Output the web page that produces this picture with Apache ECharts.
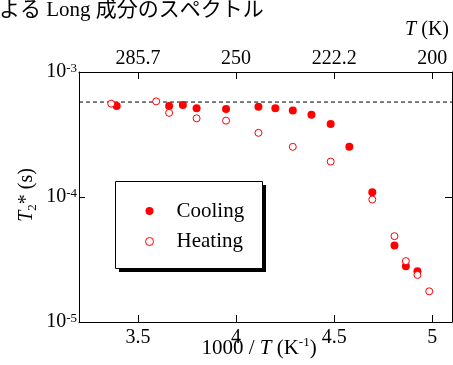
<!DOCTYPE html>
<html><head><meta charset="utf-8">
<script src="https://cdn.jsdelivr.net/npm/echarts@6/dist/echarts.min.js"></script>
<style>html,body{margin:0;padding:0;background:#fff}#c{width:453px;height:365px}</style>
</head><body><div id="c"></div>
<script>
// 1000/T (K^-1) and T2* (s)
const coolingX = [3.392, 3.659, 3.729, 3.799, 3.949, 4.114, 4.200, 4.289, 4.384, 4.482, 4.577, 4.694, 4.807, 4.865, 4.924];
const coolingY = [5.35e-4, 5.35e-4, 5.45e-4, 5.12e-4, 5.06e-4, 5.28e-4, 5.12e-4, 4.91e-4, 4.56e-4, 3.84e-4, 2.52e-4, 1.09e-4, 4.10e-5, 2.79e-5, 2.55e-5];
const heatingX = [3.364, 3.593, 3.659, 3.799, 3.949, 4.114, 4.289, 4.482, 4.694, 4.807, 4.865, 4.924, 4.984];
const heatingY = [5.58e-4, 5.82e-4, 4.71e-4, 4.26e-4, 4.08e-4, 3.26e-4, 2.52e-4, 1.92e-4, 9.55e-5, 4.86e-5, 3.07e-5, 2.38e-5, 1.76e-5];
const bottomTicks = [3.5, 4, 4.5, 5];
const topTickLabels = ['285.7', '250', '222.2', '200'];
const plateau = 5.75e-4;
const xRange = [3.2, 5.1];
const seriesNames = ['Cooling', 'Heating'];
const titleText = 'よる Long 成分のスペクトル';

const SERIF = "'Liberation Serif','Times New Roman',serif";
const RED = '#ff0000';

function rich(fs) {
  return {
    n: {fontFamily: SERIF, fontSize: fs, color: '#000', lineHeight: 24},
    i: {fontFamily: SERIF, fontSize: fs, color: '#000', lineHeight: 24, fontStyle: 'italic'},
    s: {fontFamily: SERIF, fontSize: 13, color: '#000', lineHeight: 13, verticalAlign: 'top'},
    sub: {fontFamily: SERIF, fontSize: 13, color: '#000', lineHeight: 12, verticalAlign: 'bottom'}
  };
}

const chart = echarts.init(document.getElementById('c'), null, {renderer: 'canvas'});
chart.setOption({
  animation: false,
  backgroundColor: '#fff',
  grid: {left: 79, right: 1, top: 72, bottom: 43, containLabel: false, outerBoundsMode: 'none'},
  xAxis: [{
    type: 'value', min: xRange[0], max: xRange[1], position: 'bottom',
    axisLine: {show: true, onZero: false, lineStyle: {color: '#000', width: 1}},
    axisTick: {show: true, inside: true, length: 7, customValues: bottomTicks, lineStyle: {color: '#000'}},
    axisLabel: {show: true, customValues: bottomTicks, margin: 6, fontFamily: SERIF, fontSize: 20, color: '#000',
      formatter: v => String(v)},
    splitLine: {show: false}
  }, {
    type: 'value', min: xRange[0], max: xRange[1], position: 'top',
    axisLine: {show: true, onZero: false, lineStyle: {color: '#000', width: 1}},
    axisTick: {show: true, inside: true, length: 7, customValues: bottomTicks, lineStyle: {color: '#000'}},
    axisLabel: {show: true, customValues: bottomTicks, margin: 3, fontFamily: SERIF, fontSize: 20, color: '#000',
      formatter: v => { const k = bottomTicks.findIndex(t => Math.abs(t - v) < 1e-6); return k >= 0 ? topTickLabels[k] : ''; }},
    splitLine: {show: false}
  }],
  yAxis: [{
    type: 'log', logBase: 10, min: 1e-5, max: 1e-3, position: 'left',
    axisLine: {show: true, onZero: false, lineStyle: {color: '#000', width: 1}},
    axisTick: {show: true, inside: true, length: 6, lineStyle: {color: '#000'}},
    minorTick: {show: false},
    axisLabel: {show: true, margin: 2, formatter: v => '{b|10}{s|' + Math.round(Math.log10(v)) + '}',
      rich: {b: {fontFamily: SERIF, fontSize: 20, color: '#000', lineHeight: 20},
             s: {fontFamily: SERIF, fontSize: 13, color: '#000', lineHeight: 12, verticalAlign: 'top'}}},
    splitLine: {show: false}
  }, {
    type: 'log', logBase: 10, min: 1e-5, max: 1e-3, position: 'right',
    axisLine: {show: true, onZero: false, lineStyle: {color: '#000', width: 1}},
    axisTick: {show: true, inside: true, length: 7, lineStyle: {color: '#000'}},
    axisLabel: {show: false},
    splitLine: {show: false}
  }],
  legend: {
    orient: 'vertical', left: 140, top: 195.5, itemWidth: 8, itemHeight: 8, itemGap: 9.5,
    icon: 'circle',
    data: [
      {name: seriesNames[0], itemStyle: {color: RED, borderWidth: 0, opacity: 1}},
      {name: seriesNames[1], itemStyle: {color: '#fff', borderColor: RED, borderWidth: 1, opacity: 1}}
    ],
    formatter: '{t|{name}}',
    textStyle: {fontFamily: SERIF, fontSize: 21, color: '#000', lineHeight: 21,
      rich: {t: {fontFamily: SERIF, fontSize: 21, color: '#000', lineHeight: 21, padding: [0, 0, 0, 18]}}}
  },
  graphic: [
    {type: 'rect', z: 1, shape: {x: 119, y: 185, width: 147, height: 87}, style: {fill: '#000'}},
    {type: 'rect', z: 2, shape: {x: 115.5, y: 181.5, width: 147, height: 87}, style: {fill: '#fff', stroke: '#000', lineWidth: 1}},
    {type: 'text', left: -1, top: 0, style: {text: titleText, font: "21px 'Liberation Serif','Noto Sans CJK JP',serif", fill: '#000'}},
    {type: 'text', x: 449, y: 30, style: {text: '{i|T}{n| (K)}', rich: rich(20), align: 'right', verticalAlign: 'middle'}},
    {type: 'text', x: 259, y: 348, style: {text: '{n|1000 / }{i|T}{n| (K}{s|-1}{n|)}', rich: rich(21), align: 'center', verticalAlign: 'middle'}},
    {type: 'text', x: 27, y: 195, rotation: Math.PI / 2, style: {text: '{i|T}{sub|2}{n|* (s)}', rich: rich(20), align: 'center', verticalAlign: 'middle'}}
  ],
  series: [{
    name: 'plateau', type: 'line', xAxisIndex: 0, yAxisIndex: 0,
    data: [[xRange[0], plateau], [xRange[1], plateau]],
    symbol: 'none', silent: true,
    lineStyle: {type: [4, 3], color: '#000', width: 1, opacity: 1},
    z: 2
  }, {
    name: seriesNames[0], type: 'scatter', xAxisIndex: 0, yAxisIndex: 0,
    symbol: 'circle', symbolSize: 8,
    itemStyle: {color: RED, opacity: 1},
    data: coolingX.map((x, k) => [x, coolingY[k]]),
    z: 3
  }, {
    name: seriesNames[1], type: 'scatter', xAxisIndex: 0, yAxisIndex: 0,
    symbol: 'circle', symbolSize: 7,
    itemStyle: {color: '#fff', borderColor: RED, borderWidth: 1, opacity: 1},
    data: heatingX.map((x, k) => [x, heatingY[k]]),
    z: 4
  }]
});
</script></body></html>
